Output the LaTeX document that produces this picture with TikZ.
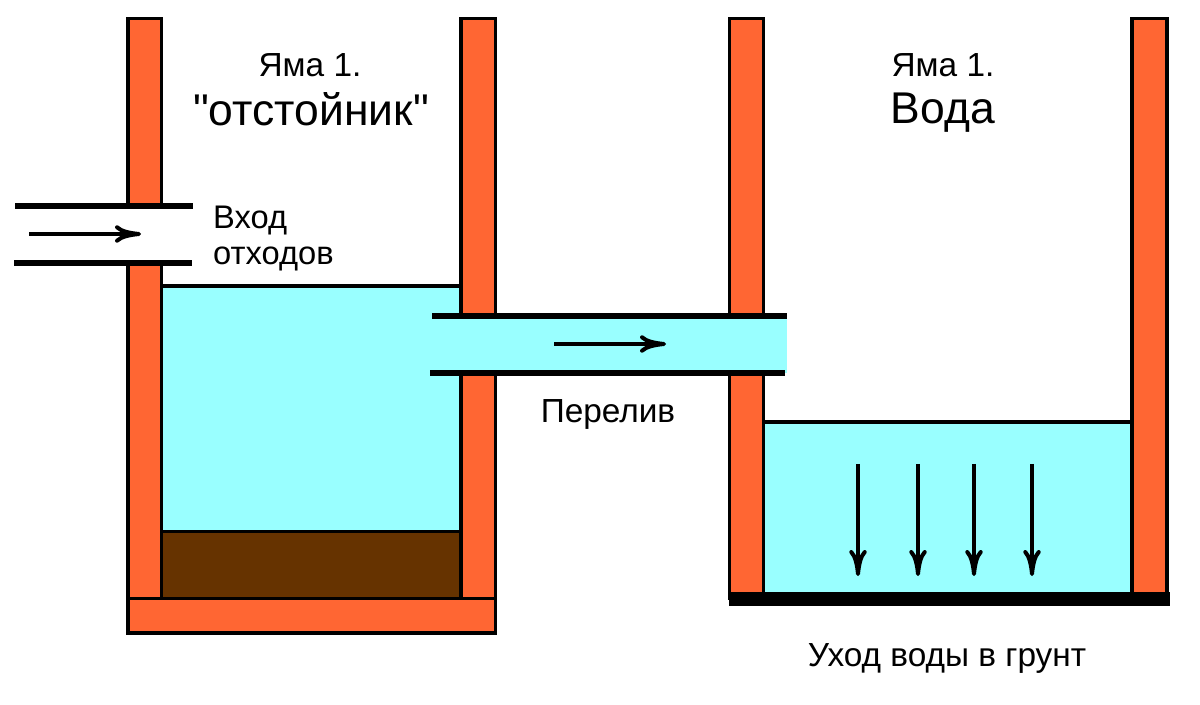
\documentclass[tikz,border=0pt]{standalone}
\usepackage{fontspec}
\setmainfont[Ligatures=TeXOff]{Liberation Sans}
\usepackage{xcolor}
\usetikzlibrary{arrows.meta}
\definecolor{brick}{HTML}{FF6633}
\definecolor{water}{HTML}{99FFFF}
\definecolor{sludge}{HTML}{663300}

\begin{document}
\begin{tikzpicture}[x=0.02cm,y=-0.02cm,>={Computer Modern Rightarrow[length=5.2mm,width=3.5mm,line width=2.3pt]},
  wall/.style={draw=black,line width=1.75pt,fill=brick},
  liquid/.style={draw=black,line width=1.75pt,fill=water},
  pipe/.style={black,line width=3.4pt},
  flow/.style={->,line width=1.8pt},
  small/.style={font=\fontsize{19}{22}\selectfont},
  inlet/.style={anchor=west,font=\fontsize{18.6}{22}\selectfont},
  big/.style={font=\fontsize{25.3}{30}\selectfont}]
  \useasboundingbox (0,0) rectangle (1200,705);
  % left pit
  \draw[liquid] (161.5,286) rectangle (461,531.5);
  \draw[draw=black,line width=1.75pt,fill=sludge] (161.5,531.5) rectangle (461,598.5);
  \draw[wall] (128,18.5) rectangle (161.5,598.5);
  \draw[wall] (461,18.5) rectangle (495.5,598.5);
  \draw[wall] (128,598.5) rectangle (495.5,633);
  % right pit
  \draw[liquid] (763.5,422) rectangle (1132,598);
  \draw[wall] (729.5,18.5) rectangle (763.5,598);
  \draw[wall] (1132,18.5) rectangle (1167,598);
  \fill[black] (729,592) rectangle (1170,606);
  % inlet
  \fill[white] (14,206) rectangle (193,263);
  \draw[pipe] (15,206)--(193,206);
  \draw[pipe] (14,263)--(192,263);
  \draw[flow] (29,234)--(141,234);
  % overflow
  \fill[water] (431,316) rectangle (787,373);
  \draw[pipe] (432,316)--(787,316);
  \draw[pipe] (430,373)--(785,373);
  \draw[flow] (554,344)--(666,344);
  % drain arrows
  \foreach \x in {858,918,974,1032}
    \draw[flow] (\x,464)--(\x,576);
  \node[small] (pit1) at (310,65) {Яма 1.};
  \node[big] (settler) at (311,109) {"отстойник"};
  \node[small] (pit2) at (943,65) {Яма 1.};
  \node[big] (voda) at (943,113) {Вода};
  \node[inlet] (inlet1) at (207,221) {Вход};
  \node[inlet] (inlet2) at (207,259) {отходов};
  \node[small] (over) at (608,414) {Перелив};
  \node[small] (drain) at (947,658) {Уход воды в грунт};
\end{tikzpicture}
\end{document}
